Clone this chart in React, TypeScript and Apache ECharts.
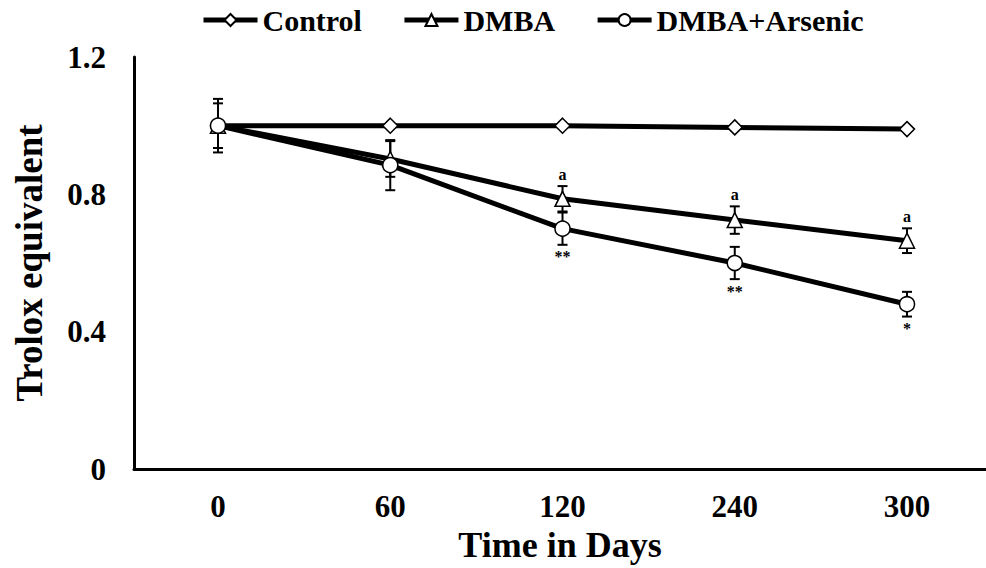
import React, { useEffect, useRef } from "react";
import * as echarts from "echarts";

const days = ["0", "60", "120", "240", "300"];
const control = [1.0, 1.0, 1.0, 0.995, 0.99];
const dmba = [1.0, 0.903, 0.787, 0.725, 0.665];
const dmbaErr = [0.065, 0.052, 0.037, 0.04, 0.036];
const arsenic = [1.0, 0.885, 0.7, 0.6, 0.48];
const arsenicErr = [0.078, 0.073, 0.047, 0.047, 0.036];
const dmbaSig = ["", "", "a", "a", "a"];
const arsenicSig = ["", "", "**", "**", "*"];
const yTicks = [0, 0.4, 0.8, 1.2];

const FONT = "'Liberation Serif', 'Times New Roman', serif";

function errorSeries(name: string, means: number[], errs: number[], sig: string[], above: boolean) {
  return {
    type: "custom",
    name: name + "-err",
    z: 1,
    silent: true,
    data: means.map((m, i) => [i, m, errs[i], i]),
    renderItem: (params: any, api: any) => {
      const x = api.value(0);
      const m = api.value(1);
      const e = api.value(2);
      const idx = api.value(3);
      const top = api.coord([x, m + e]);
      const bot = api.coord([x, m - e]);
      const hw = 5;
      const st = { stroke: "#000", lineWidth: 2 };
      const children: any[] = [
        { type: "line", shape: { x1: top[0], y1: top[1], x2: bot[0], y2: bot[1] }, style: st },
        { type: "line", shape: { x1: top[0] - hw, y1: top[1], x2: top[0] + hw, y2: top[1] }, style: st },
        { type: "line", shape: { x1: bot[0] - hw, y1: bot[1], x2: bot[0] + hw, y2: bot[1] }, style: st },
      ];
      const s = sig[idx];
      if (s) {
        children.push({
          type: "text",
          style: {
            text: s,
            x: top[0],
            y: above ? top[1] - 12 : bot[1] + 12,
            align: "center",
            verticalAlign: "middle",
            font: `bold 16px ${FONT}`,
            fill: "#000",
          },
        });
      }
      return { type: "group", children };
    },
  };
}

export default function App() {
  const ref = useRef<HTMLDivElement>(null);
  useEffect(() => {
    if (!ref.current) return;
    const chart = echarts.init(ref.current, null, { renderer: "svg" });
    const lineSeries = (name: string, vals: number[], symbol: string, size: number) => ({
      type: "line",
      name,
      z: 3,
      data: vals.map((v, i) => [i, v]),
      symbol,
      symbolSize: size,
      showAllSymbol: true,
      lineStyle: { color: "#000", width: 5 },
      itemStyle: { color: "#fff", borderColor: "#000", borderWidth: 1.5 },
    });
    chart.setOption({
      animation: false,
      backgroundColor: "#fff",
      legend: {
        top: 0,
        left: 196,
        itemWidth: 54,
        itemHeight: 15,
        itemGap: 40,
        lineStyle: { width: 5 },
        textStyle: { fontFamily: FONT, fontWeight: "bold", fontSize: 30, color: "#000" },
        data: ["Control", "DMBA", "DMBA+Arsenic"],
      },
      grid: { left: 134, right: 0, top: 57, bottom: 97 },
      xAxis: {
        type: "value",
        min: -0.4877,
        max: 4.4586,
        name: "Time in Days",
        nameLocation: "middle",
        nameGap: 58,
        nameTextStyle: { fontFamily: FONT, fontWeight: "bold", fontSize: 36, color: "#000" },
        axisLine: { show: true, onZero: false, lineStyle: { color: "#000", width: 3 } },
        axisTick: { show: false },
        splitLine: { show: false },
        axisLabel: {
          customValues: [0, 1, 2, 3, 4],
          formatter: (v: number) => days[Math.round(v)] ?? "",
          margin: 22,
          fontFamily: FONT,
          fontWeight: "bold",
          fontSize: 31,
          color: "#000",
        },
      },
      yAxis: {
        type: "value",
        min: 0,
        max: 1.2,
        interval: 0.4,
        name: "Trolox equivalent",
        nameLocation: "middle",
        nameGap: 86,
        nameTextStyle: { fontFamily: FONT, fontWeight: "bold", fontSize: 37, color: "#000" },
        axisLine: { show: true, onZero: false, lineStyle: { color: "#000", width: 3 } },
        axisTick: { show: false },
        splitLine: { show: false },
        axisLabel: {
          customValues: yTicks,
          formatter: (v: number) => (Math.abs(v) < 1e-9 ? "0" : v.toFixed(1)),
          margin: 28,
          fontFamily: FONT,
          fontWeight: "bold",
          fontSize: 31,
          color: "#000",
        },
      },
      series: [
        errorSeries("DMBA", dmba, dmbaErr, dmbaSig, true),
        errorSeries("DMBA+Arsenic", arsenic, arsenicErr, arsenicSig, false),
        lineSeries("Control", control, "diamond", 15),
        lineSeries("DMBA", dmba, "triangle", 15),
        lineSeries("DMBA+Arsenic", arsenic, "circle", 15),
      ],
    });
    return () => chart.dispose();
  }, []);
  return (
    <div
      ref={ref}
      style={{ position: "fixed", left: 0, top: 0, width: 986, height: 568, background: "#fff" }}
    />
  );
}
